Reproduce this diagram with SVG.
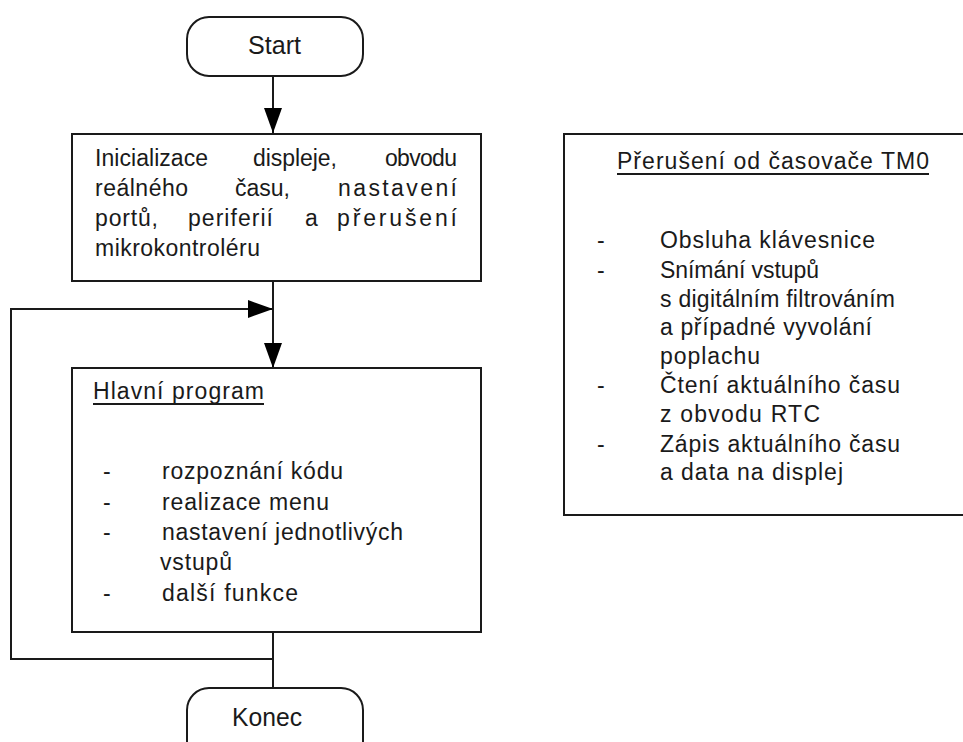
<svg xmlns="http://www.w3.org/2000/svg" width="963" height="742" viewBox="0 0 963 742">
<defs>
<style>
.box{fill:#fff;stroke:#1a1a1a;stroke-width:2}
.ln{fill:none;stroke:#1a1a1a;stroke-width:2}
.t{font-family:"Liberation Sans",Arial,sans-serif;font-size:23px;fill:#1a1a1a}
.tt{font-family:"Liberation Sans",Arial,sans-serif;font-size:25px;fill:#1a1a1a}
.ul{stroke:#1a1a1a;stroke-width:2}
</style>
<marker id="ah" markerUnits="userSpaceOnUse" markerWidth="26" markerHeight="20" viewBox="0 0 26 20" refX="25" refY="10" orient="auto">
<path d="M0,1 L25,10 L0,19 Z" fill="#000"/>
</marker>
</defs>
<rect width="963" height="742" fill="#fff"/>

<g id="connectors">
<line class="ln" x1="273" y1="76" x2="273" y2="133" marker-end="url(#ah)"/>
<line class="ln" x1="273" y1="281" x2="273" y2="368" marker-end="url(#ah)"/>
<line class="ln" x1="273" y1="632" x2="273" y2="688"/>
<path class="ln" d="M273,659 H11 V309 H273" marker-end="url(#ah)"/>
</g>

<g id="start">
<rect class="box" x="187" y="17" width="176" height="59" rx="22" ry="22"/>
<text class="tt" x="248" y="54" textLength="53" lengthAdjust="spacingAndGlyphs">Start</text>
</g>

<g id="init">
<rect class="box" x="72" y="134" width="409" height="147"/>
<text class="t" y="166"><tspan x="95" textLength="113">Inicializace</tspan></text>
<text class="t" y="166"><tspan x="253" textLength="84">displeje,</tspan></text>
<text class="t" y="166"><tspan x="385" textLength="72">obvodu</tspan></text>
<text class="t" y="196"><tspan x="95" textLength="93">reálného</tspan></text>
<text class="t" y="196"><tspan x="235" textLength="55">času,</tspan></text>
<text class="t" y="196"><tspan x="338" textLength="119">nastavení</tspan></text>
<text class="t" y="226"><tspan x="95" textLength="63">portů,</tspan></text>
<text class="t" y="226"><tspan x="188" textLength="85">periferií</tspan></text>
<text class="t" y="226"><tspan x="305" textLength="11">a</tspan></text>
<text class="t" y="226"><tspan x="337" textLength="120">přerušení</tspan></text>
<text class="t" y="256"><tspan x="95" textLength="165">mikrokontroléru</tspan></text>
</g>

<g id="main">
<rect class="box" x="72" y="368" width="409" height="264"/>
<text class="t" x="93" y="399" textLength="171">Hlavní program</text>
<line class="ul" x1="93" y1="404" x2="264" y2="404"/>
<text class="t" x="103" y="479">-</text>
<text class="t" x="162" y="479" textLength="181">rozpoznání kódu</text>
<text class="t" x="103" y="510">-</text>
<text class="t" x="162" y="510" textLength="167">realizace menu</text>
<text class="t" x="103" y="540">-</text>
<text class="t" x="162" y="540" textLength="241">nastavení jednotlivých</text>
<text class="t" x="160" y="570" textLength="72">vstupů</text>
<text class="t" x="103" y="601">-</text>
<text class="t" x="162" y="601" textLength="136">další funkce</text>
</g>

<g id="interrupt">
<rect class="box" x="564" y="134" width="410" height="381"/>
<text class="t" x="617" y="169" textLength="312">Přerušení od časovače TM0</text>
<line class="ul" x1="617" y1="174" x2="929" y2="174"/>
<text class="t" x="597" y="248">-</text>
<text class="t" x="660" y="248" textLength="215">Obsluha klávesnice</text>
<text class="t" x="597" y="278">-</text>
<text class="t" x="660" y="278" textLength="159">Snímání vstupů</text>
<text class="t" x="660" y="307" textLength="235">s digitálním filtrováním</text>
<text class="t" x="660" y="335" textLength="212">a případné vyvolání</text>
<text class="t" x="660" y="364" textLength="100">poplachu</text>
<text class="t" x="597" y="393">-</text>
<text class="t" x="660" y="393" textLength="240">Čtení aktuálního času</text>
<text class="t" x="660" y="422" textLength="160">z obvodu RTC</text>
<text class="t" x="597" y="452">-</text>
<text class="t" x="660" y="452" textLength="240">Zápis aktuálního času</text>
<text class="t" x="660" y="480" textLength="183">a data na displej</text>
</g>

<g id="end">
<rect class="box" x="187" y="688" width="176" height="80" rx="22" ry="22"/>
<text class="tt" x="232" y="726" textLength="70" lengthAdjust="spacingAndGlyphs">Konec</text>
</g>
</svg>
